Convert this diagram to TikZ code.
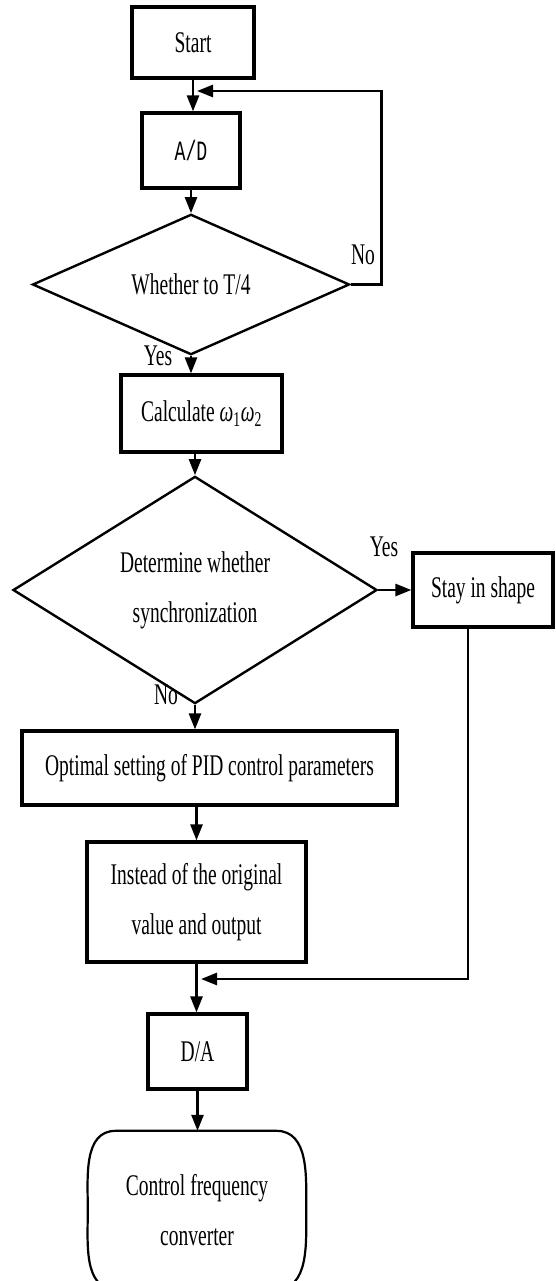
\documentclass[tikz,border=0pt]{standalone}
\usepackage{fontspec}
\setmainfont{Liberation Serif}[FakeStretch=0.65]
\newfontfamily\adfont{Liberation Mono}[FakeStretch=0.65]
\usetikzlibrary{arrows.meta,shapes.geometric}

\begin{document}
\begin{tikzpicture}[x=1pt,y=-1pt]
		\tikzset{every node/.style = {font=\fontsize{30}{50}\selectfont}}
		\tikzset{box/.style = {shape=rectangle, draw, line width=3.2pt, inner sep=0pt, align=center}}
		\tikzset{decision/.style = {shape=diamond, draw, line width=2.4pt, inner sep=0pt, align=center}}
		\tikzset{stop/.style = {shape=rectangle, inner sep=0pt, align=center}}
		\tikzset{edge/.style = {line width=2.6pt, -{Triangle[length=16pt,width=12pt]}}}

		\useasboundingbox (0,0) rectangle (555,1281);

		\node[box, minimum width=122pt, minimum height=71pt] (start) at (193,42.5) {Start};
		\node[box, minimum width=98pt, minimum height=75pt, font=\adfont\fontsize{28}{34}\selectfont] (ad) at (191,150.5) {A/D};
		\node[decision, minimum width=317pt, minimum height=115pt] (dec1) at (191,284.5) {Whether to T/4};
		\node[box, minimum width=161pt, minimum height=77pt] (calc) at (201.5,413.5) {Calculate {\itshape ω}\textsubscript{1}{\itshape ω}\textsubscript{2}};
		\node[decision, minimum width=364pt, minimum height=196pt] (dec2) at (195,590) {Determine whether\\synchronization};
		\node[box, minimum width=140pt, minimum height=74pt] (stay) at (483,590) {Stay in shape};
		\node[box, minimum width=375pt, minimum height=74pt] (pid) at (209.5,768) {Optimal setting of PID control parameters};
		\node[box, minimum width=219pt, minimum height=120pt] (inst) at (196.5,902) {Instead of the original\\value and output};
		\node[box, minimum width=99pt, minimum height=75pt] (da) at (197.5,1051.5) {D/A};
		\node[stop, minimum width=218pt, minimum height=158pt] (conv) at (197,1210) {Control frequency\\converter};
		% outline of the terminal, cut by the page edge
		\draw[line width=2.2pt] ([xshift=28pt]conv.north west) -- ([xshift=-30pt]conv.north east)
			to[out=0,in=90] (conv.east) to[out=-90,in=0] ([xshift=-30pt]conv.south east)
			-- ([xshift=28pt]conv.south west) to[out=180,in=-90] (conv.west)
			to[out=90,in=180] ([xshift=28pt]conv.north west) -- cycle;

		\node (no1) at (363,255) {No};
		\node (yes1) at (158,356) {Yes};
		\node (yes2) at (384,547) {Yes};
		\node (no2) at (166,695) {No};

		\coordinate (back1) at (197,91);
		\coordinate (back2) at (201,979);

		\draw[edge] (start.south) -- (start.south |- ad.north);
		\draw[edge] (ad.south) -- (ad.south |- dec1.north);
		\draw[edge] (dec1.south) -- (dec1.south |- calc.north);
		\draw[edge] (calc.south -| dec2.north) -- (dec2.north);
		\draw[edge] (dec2.south) -- (dec2.south |- pid.north);
		\draw[edge] (pid.south -| inst.north) -- (inst.north);
		\draw[edge] (inst.south) -- (inst.south |- da.north);
		\draw[edge] (da.south) -- (da.south |- conv.north);
		\draw[edge] (dec2.east) -- (stay.west);
		\draw[edge] (dec1.east) -- ++(31,0) |- (back1);
		\draw[edge] ([xshift=-15pt]stay.south) |- (back2);

	\end{tikzpicture}
\end{document}
